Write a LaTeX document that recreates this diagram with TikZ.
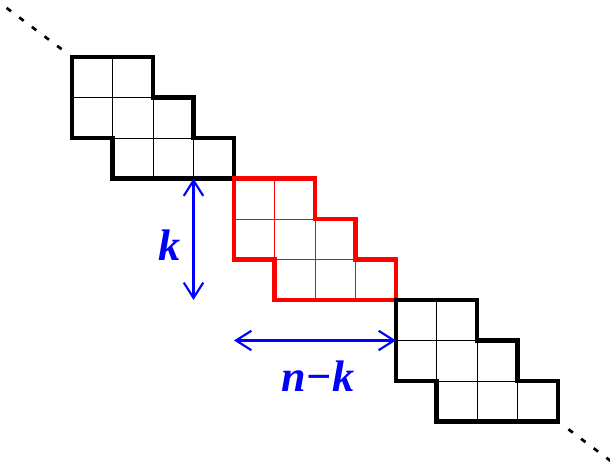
\documentclass[tikz,border=0pt]{standalone}
\usepackage{fontspec}
\setmainfont{Liberation Serif}
\usetikzlibrary{arrows.meta}
\tikzset{
  cellline/.style={line width=0.6pt},
  rim/.style={line width=2.9pt, line join=miter},
  gap/.style={line width=1.9pt, line cap=butt},
  size/.style={blue, line width=1.5pt, {Straight Barb[length=3.8mm,width=4.8mm]}-{Straight Barb[length=3.8mm,width=4.8mm]}},
  lbl/.style={text=blue, font=\fontsize{31}{36}\selectfont\bfseries\itshape, inner sep=0pt}
}
\newcommand{\staircase}[2]{%
  \draw[cellline,#2] (0,-1)--(2,-1) (1,-2)--(3,-2) (1,0)--(1,-2) (2,-1)--(2,-3) (3,-2)--(3,-3);
  \draw[rim,#2] (0,0)--(2,0)--(2,-1)--(3,-1)--(3,-2)--(4,-2)--(4,-3)--(1,-3)--(1,-2)--(0,-2)--cycle;
}
\begin{document}
\begin{tikzpicture}[font=\footnotesize]
			\useasboundingbox (-1.778,1.407) rectangle (13.284,-10.296);
			\begin{scope}[shift={(0,0)}]\staircase{top}{black}\end{scope}
			\begin{scope}[shift={(4,-3)}]\staircase{mid}{red}\end{scope}
			\begin{scope}[shift={(8,-6)}]\staircase{low}{black}\end{scope}
			\foreach \t in {1,...,5}
				\draw[gap] ({-0.312*\t-0.055},{0.234*\t+0.041})--({-0.312*\t+0.055},{0.234*\t-0.041});
			\foreach \t in {1,...,4}
				\draw[gap] ({12-0.055+0.312*\t},{-9+0.041-0.234*\t})--({12+0.055+0.312*\t},{-9-0.041-0.234*\t});
			\coordinate (ktop) at (3,-3);
			\coordinate (kbot) at (3,-6);
			\coordinate (nkl) at (4,-7);
			\coordinate (nkr) at (8,-7);
			\draw[size] (ktop)--(kbot);
			\draw[size] (nkl)--(nkr);
			\node[lbl] (k) at (2.42,-4.64) {k};
			\node[lbl] (nk) at (6.07,-7.88) {n−k};
		\end{tikzpicture}
\end{document}
